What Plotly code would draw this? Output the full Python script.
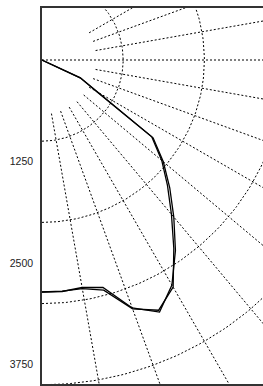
import numpy as np
import plotly.graph_objects as go

# ---- data (gamma angle measured from nadir, intensity in cd) ----
gamma = [0, 5, 10, 15, 20, 25, 30, 35, 40, 45, 50, 55, 60, 65, 70, 75, 80, 85, 90]
curve_a = [2857, 2862, 2845, 2900, 3250, 3425, 3200, 2865, 2525, 2225, 1950, 1670, 790, 520, 0, 0, 0, 0, 0]
curve_b = [2857, 2858, 2858, 2935, 3262, 3400, 3230, 2830, 2480, 2185, 1925, 1650, 780, 520, 0, 0, 0, 0, 0]

ring_values = [1000, 2000, 3000, 4000]
spoke_angles = [10, 20, 30, 40, 50, 60, 70, 80, 90, 100, 110, 120]
spoke_inner = 670
tick_values = [1250, 2500, 3750]

# ---- layout geometry ----
W, H = 263, 386
ML, MR, MT, MB = 42, 0, 8, 2
PX_PER_UNIT = 0.0812
CENTER_FROM_TOP = 52  # px between top frame and polar centre

plot_w = W - ML - MR
plot_h = H - MT - MB
x_range = [0, plot_w / PX_PER_UNIT]
y_range = [-(plot_h - CENTER_FROM_TOP) / PX_PER_UNIT, CENTER_FROM_TOP / PX_PER_UNIT]


def to_xy(r, deg):
    r = np.asarray(r, dtype=float)
    t = np.radians(np.asarray(deg, dtype=float))
    return r * np.sin(t), -r * np.cos(t)


fig = go.Figure()

grid_style = dict(color="black", width=1, dash="2px,2px")

# rings
t_ring = np.arange(0, 181, 1)
for rv in ring_values:
    x, y = to_xy(np.full(t_ring.shape, rv), t_ring)
    fig.add_trace(go.Scatter(x=x, y=y, mode="lines", line=grid_style,
                             hoverinfo="skip", showlegend=False))

# spokes
outer = 6000
for a in spoke_angles:
    r0 = 0 if a == 90 else spoke_inner
    x, y = to_xy([r0, outer], [a, a])
    fig.add_trace(go.Scatter(x=x, y=y, mode="lines", line=grid_style,
                             hoverinfo="skip", showlegend=False))

# intensity curves
for vals in (curve_a, curve_b):
    x, y = to_xy(vals, gamma)
    fig.add_trace(go.Scatter(x=x, y=y, mode="lines",
                             line=dict(color="black", width=1.3),
                             hoverinfo="skip", showlegend=False))

fig.update_layout(
    width=W, height=H,
    margin=dict(l=ML, r=MR, t=MT, b=MB, pad=0),
    paper_bgcolor="white", plot_bgcolor="white",
    showlegend=False,
    font=dict(family="Liberation Sans, Arial, sans-serif", size=10.5, color="#222"),
)
fig.update_xaxes(range=x_range, showgrid=False, zeroline=False, showticklabels=False,
                 ticks="", showline=True, mirror=True, linecolor="#333", linewidth=1.5)
fig.update_yaxes(range=y_range, showgrid=False, zeroline=False,
                 tickvals=[-v for v in tick_values], ticktext=[str(v) for v in tick_values],
                 ticks="", ticklabelstandoff=5,
                 showline=True, mirror=False, linecolor="#333", linewidth=1.5)

fig.write_html("out.html", config={"displayModeBar": False},
               post_script="document.body.style.margin='0';document.body.style.overflow='hidden';")
